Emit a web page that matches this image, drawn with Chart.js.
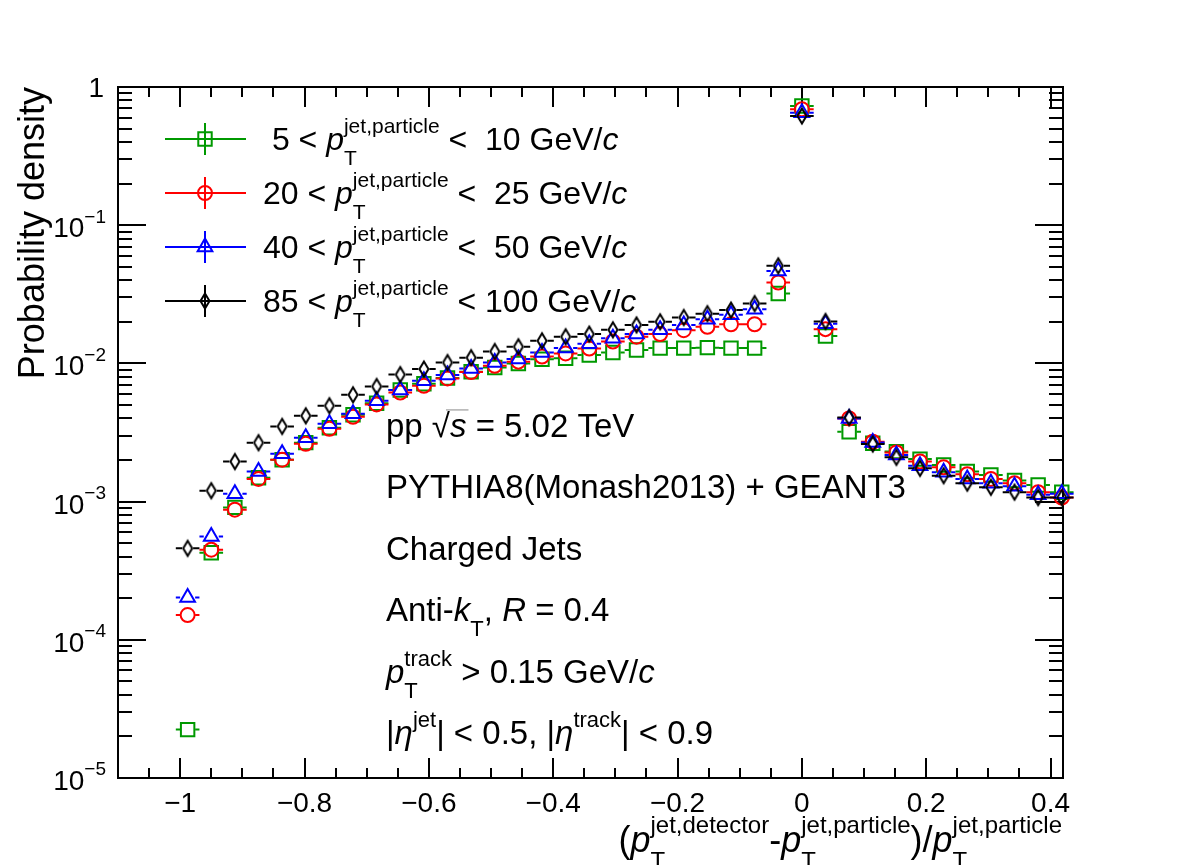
<!DOCTYPE html>
<html>
<head>
<meta charset="utf-8">
<script src="https://cdn.jsdelivr.net/npm/chart.js@4.4.0/dist/chart.umd.min.js"></script>
<style>
    html, body { margin: 0; padding: 0; background: #fff; }
    #wrap { width: 1182px; height: 865px; }
</style>
</head>
<body>
<div id="wrap"><canvas id="chart" width="1182" height="865"></canvas></div>
<script>
// bin centres of (pT,det - pT,part)/pT,part
const binCenters = [
    -0.988, -0.950, -0.912, -0.874, -0.836, -0.798, -0.760, -0.722, -0.684, -0.646,
    -0.608, -0.570, -0.532, -0.494, -0.456, -0.418, -0.380, -0.342, -0.304, -0.266,
    -0.228, -0.190, -0.152, -0.114, -0.076, -0.038, 0.000, 0.038, 0.076, 0.114,
    0.152, 0.190, 0.228, 0.266, 0.304, 0.342, 0.380, 0.418
];
const binHalfWidth = 0.019;

// probability density per pT,part bin
const pt5to10 = [
    2.24e-5, 4.27e-4, 9.08e-4, 1.49e-3, 2.01e-3, 2.67e-3, 3.42e-3, 4.25e-3, 5.15e-3, 6.41e-3,
    7.12e-3, 7.83e-3, 8.70e-3, 9.34e-3, 9.98e-3, 1.07e-2, 1.09e-2, 1.15e-2, 1.20e-2, 1.25e-2,
    1.29e-2, 1.29e-2, 1.30e-2, 1.29e-2, 1.29e-2, 3.20e-2, 0.729, 1.58e-2, 3.20e-3, 2.64e-3,
    2.30e-3, 2.03e-3, 1.84e-3, 1.65e-3, 1.56e-3, 1.42e-3, 1.32e-3, 1.17e-3
];
const pt20to25 = [
    1.51e-4, 4.49e-4, 8.74e-4, 1.46e-3, 2.01e-3, 2.62e-3, 3.36e-3, 4.11e-3, 5.05e-3, 6.16e-3,
    6.89e-3, 7.78e-3, 8.65e-3, 9.60e-3, 1.03e-2, 1.12e-2, 1.18e-2, 1.28e-2, 1.44e-2, 1.56e-2,
    1.63e-2, 1.74e-2, 1.84e-2, 1.92e-2, 1.92e-2, 3.85e-2, 0.690, 1.77e-2, 4.00e-3, 2.71e-3,
    2.27e-3, 1.95e-3, 1.77e-3, 1.58e-3, 1.46e-3, 1.36e-3, 1.17e-3, 1.07e-3
];
const pt40to50 = [
    2.02e-4, 5.60e-4, 1.14e-3, 1.65e-3, 2.22e-3, 2.90e-3, 3.66e-3, 4.32e-3, 5.37e-3, 6.41e-3,
    7.48e-3, 8.23e-3, 9.19e-3, 1.015e-2, 1.074e-2, 1.20e-2, 1.29e-2, 1.39e-2, 1.52e-2, 1.63e-2,
    1.75e-2, 1.90e-2, 2.09e-2, 2.25e-2, 2.47e-2, 4.67e-2, 0.652, 1.94e-2, 4.00e-3, 2.68e-3,
    2.17e-3, 1.82e-3, 1.63e-3, 1.46e-3, 1.36e-3, 1.29e-3, 1.12e-3, 1.14e-3
];
const pt85to100 = [
    4.59e-4, 1.20e-3, 1.95e-3, 2.67e-3, 3.50e-3, 4.18e-3, 4.94e-3, 5.93e-3, 6.81e-3, 8.30e-3,
    9.10e-3, 1.015e-2, 1.10e-2, 1.22e-2, 1.32e-2, 1.457e-2, 1.56e-2, 1.63e-2, 1.75e-2, 1.90e-2,
    2.00e-2, 2.15e-2, 2.29e-2, 2.43e-2, 2.71e-2, 5.08e-2, 0.617, 2.01e-2, 4.06e-3, 2.61e-3,
    2.09e-3, 1.74e-3, 1.54e-3, 1.36e-3, 1.27e-3, 1.17e-3, 1.07e-3, 1.07e-3
];

const xMajorTicks = [-1, -0.8, -0.6, -0.4, -0.2, 0, 0.2, 0.4];
const xTickLabels = ['\u22121', '\u22120.8', '\u22120.6', '\u22120.4', '\u22120.2', '0', '0.2', '0.4'];
const yMajorTicks = [1e-5, 1e-4, 1e-3, 1e-2, 1e-1, 1];
const yTickExponents = ['\u22125', '\u22124', '\u22123', '\u22122', '\u22121', null];

const GREEN = '#009900';
const FONT = '"Liberation Sans", Arial, Helvetica, sans-serif';

function font(size, italic) {
    return (italic ? 'italic ' : '') + size + 'px ' + FONT;
}

// thin open diamond like ROOT marker 27
function makeDiamond() {
    const c = document.createElement('canvas');
    c.width = 16; c.height = 22;
    const g = c.getContext('2d');
    g.strokeStyle = '#000';
    g.lineWidth = 2;
    g.beginPath();
    g.moveTo(8, 3.5); g.lineTo(12.5, 11); g.lineTo(8, 18.5); g.lineTo(3.5, 11);
    g.closePath();
    g.stroke();
    return c;
}

function toPoints(vals) {
    return binCenters.map((x, i) => ({ x, y: vals[i] }));
}

const series = [
    { label: '5-10', data: pt5to10, color: GREEN, style: 'rect', radius: 9.5, gap: 7.5, order: 3 },
    { label: '20-25', data: pt20to25, color: '#ff0000', style: 'circle', radius: 7, gap: 7.5, order: 2 },
    { label: '40-50', data: pt40to50, color: '#0000ff', style: 'triangle', radius: 8.5, gap: 7.5, order: 1 },
    { label: '85-100', data: pt85to100, color: '#000000', style: makeDiamond(), radius: 7, gap: 5.5, order: 0 }
];

const legendRows = [
    [{ t: ' 5 < ' }, { t: 'p', it: true }, { sup: 'jet,particle', sub: 'T' }, { t: ' <  10 GeV/' }, { t: 'c', it: true }],
    [{ t: '20 < ' }, { t: 'p', it: true }, { sup: 'jet,particle', sub: 'T' }, { t: ' <  25 GeV/' }, { t: 'c', it: true }],
    [{ t: '40 < ' }, { t: 'p', it: true }, { sup: 'jet,particle', sub: 'T' }, { t: ' <  50 GeV/' }, { t: 'c', it: true }],
    [{ t: '85 < ' }, { t: 'p', it: true }, { sup: 'jet,particle', sub: 'T' }, { t: ' < 100 GeV/' }, { t: 'c', it: true }]
];

const infoLines = [
    [{ t: 'pp ' }, { t: '\u221A' }, { t: 's', it: true, over: true }, { t: ' = 5.02 TeV' }],
    [{ t: 'PYTHIA8(Monash2013) + GEANT3' }],
    [{ t: 'Charged Jets' }],
    [{ t: 'Anti-' }, { t: 'k', it: true }, { sub: 'T' }, { t: ', ' }, { t: 'R', it: true }, { t: ' = 0.4' }],
    [{ t: 'p', it: true }, { sup: 'track', sub: 'T' }, { t: ' > 0.15 GeV/' }, { t: 'c', it: true }],
    [{ t: '|' }, { t: '\u03B7', it: true }, { sup: 'jet' }, { t: '| < 0.5, |' }, { t: '\u03B7', it: true }, { sup: 'track' }, { t: '| < 0.9' }]
];

const xTitle = [
    { t: '(' }, { t: 'p', it: true }, { sup: 'jet,detector', sub: 'T' }, { t: '-' },
    { t: 'p', it: true }, { sup: 'jet,particle', sub: 'T' }, { t: ')/' },
    { t: 'p', it: true }, { sup: 'jet,particle', sub: 'T' }
];

function isScript(p) {
    return p.sup !== undefined || p.sub !== undefined;
}

function partWidth(ctx, p, size, ss) {
    if (isScript(p)) {
        ctx.font = font(ss, false);
        const a = p.sup ? ctx.measureText(p.sup).width : 0;
        const b = p.sub ? ctx.measureText(p.sub).width : 0;
        return Math.max(a, b);
    }
    ctx.font = font(size, p.it);
    return ctx.measureText(p.t).width;
}

function drawRich(ctx, x, y, parts, size, ss, align) {
    const total = parts.reduce((s, p) => s + partWidth(ctx, p, size, ss), 0);
    let cx = align === 'right' ? x - total : x;
    ctx.textAlign = 'left';
    ctx.textBaseline = 'alphabetic';
    ctx.fillStyle = '#000';
    parts.forEach(p => {
        const w = partWidth(ctx, p, size, ss);
        if (isScript(p)) {
            ctx.font = font(ss, false);
            if (p.sup) ctx.fillText(p.sup, cx, y - size * 0.52);
            if (p.sub) ctx.fillText(p.sub, cx, y + size * 0.46);
        } else {
            ctx.font = font(size, p.it);
            ctx.fillText(p.t, cx, y);
            if (p.over) {
                ctx.save();
                ctx.strokeStyle = '#888';
                ctx.lineWidth = 1;
                ctx.beginPath();
                ctx.moveTo(cx - 4, y - size * 0.82);
                ctx.lineTo(cx + w + 2, y - size * 0.82);
                ctx.stroke();
                ctx.restore();
            }
        }
        cx += w;
    });
}

const rootAxes = {
    id: 'rootAxes',
    beforeDatasetsDraw(chart) {
        const { ctx, chartArea: a, scales: { x, y } } = chart;
        ctx.save();
        ctx.strokeStyle = '#000';
        ctx.lineWidth = 2;
        ctx.strokeRect(a.left, a.top, a.right - a.left, a.bottom - a.top);

        ctx.beginPath();
        // x ticks, bottom and top, pointing inside
        for (let k = -22; k <= 8; k++) {
            const v = k * 0.05;
            if (v < x.min - 1e-9 || v > x.max + 1e-9) continue;
            const px = Math.round(x.getPixelForValue(v));
            const len = (k % 4 === 0) ? 20 : 10;
            ctx.moveTo(px, a.bottom); ctx.lineTo(px, a.bottom - len);
            ctx.moveTo(px, a.top); ctx.lineTo(px, a.top + len);
        }
        // y ticks, left and right
        for (let e = -5; e <= 0; e++) {
            for (let m = 1; m <= 9; m++) {
                const v = m * Math.pow(10, e);
                if (v > y.max * 1.0001) continue;
                const py = Math.round(y.getPixelForValue(v));
                const len = m === 1 ? 28 : 14;
                ctx.moveTo(a.left, py); ctx.lineTo(a.left + len, py);
                ctx.moveTo(a.right, py); ctx.lineTo(a.right - len, py);
            }
        }
        ctx.stroke();

        // tick labels
        ctx.fillStyle = '#000';
        ctx.textAlign = 'center';
        ctx.textBaseline = 'alphabetic';
        ctx.font = font(28, false);
        xMajorTicks.forEach((v, i) => {
            ctx.fillText(xTickLabels[i], x.getPixelForValue(v), 812);
        });
        yMajorTicks.forEach((v, i) => {
            const py = y.getPixelForValue(v);
            if (yTickExponents[i] === null) {
                ctx.font = font(28, false);
                ctx.textAlign = 'right';
                ctx.fillText('1', 104, py + 10);
                return;
            }
            drawRich(ctx, 106, py + 12, [{ t: '10' }, { sup: yTickExponents[i] }], 28, 19, 'right');
        });
        ctx.restore();
    }
};

const errorBars = {
    id: 'errorBars',
    afterDatasetsDraw(chart) {
        const { ctx, scales: { x } } = chart;
        ctx.save();
        ctx.lineWidth = 2;
        chart.data.datasets.forEach((ds, di) => {
            const meta = chart.getDatasetMeta(di);
            const gap = series[di].gap;
            ctx.strokeStyle = series[di].color;
            ctx.beginPath();
            meta.data.forEach((el, i) => {
                const xv = ds.data[i].x;
                const x0 = x.getPixelForValue(xv - binHalfWidth);
                const x1 = x.getPixelForValue(xv + binHalfWidth);
                ctx.moveTo(x0, el.y); ctx.lineTo(el.x - gap, el.y);
                ctx.moveTo(el.x + gap, el.y); ctx.lineTo(x1, el.y);
            });
            ctx.stroke();
        });
        ctx.restore();
    }
};

const annotations = {
    id: 'annotations',
    afterDraw(chart) {
        const { ctx } = chart;
        ctx.save();

        // legend
        const rowY = [139, 193, 247, 301];
        series.forEach((s, i) => {
            const cy = rowY[i];
            ctx.strokeStyle = s.color;
            ctx.lineWidth = 2;
            ctx.beginPath();
            ctx.moveTo(165, cy); ctx.lineTo(246, cy);
            ctx.moveTo(205, cy - 16); ctx.lineTo(205, cy + 16);
            ctx.stroke();
            ctx.fillStyle = 'rgba(0,0,0,0)';
            ctx.strokeStyle = s.color;
            Chart.helpers.drawPoint(ctx, {
                pointStyle: s.style, radius: s.radius, borderWidth: 2, rotation: 0
            }, 205, cy);
            drawRich(ctx, 263, cy + 11, legendRows[i], 32, 21, 'left');
        });

        // info text
        const lineY = [437, 498, 560, 621, 683, 744];
        infoLines.forEach((parts, i) => drawRich(ctx, 386, lineY[i], parts, 33, 22, 'left'));

        // axis titles
        drawRich(ctx, 1062, 852, xTitle, 36, 24, 'right');
        ctx.translate(44, 87);
        ctx.rotate(-Math.PI / 2);
        ctx.font = font(36, false);
        ctx.fillStyle = '#000';
        ctx.textAlign = 'right';
        ctx.textBaseline = 'alphabetic';
        ctx.fillText('Probability density', 0, 0);
        ctx.restore();
    }
};

new Chart(document.getElementById('chart'), {
    type: 'scatter',
    data: {
        datasets: series.map(s => ({
            label: s.label,
            data: toPoints(s.data),
            pointStyle: s.style,
            pointRadius: s.radius,
            pointBorderWidth: 2,
            borderColor: s.color,
            backgroundColor: 'rgba(0,0,0,0)',
            showLine: false,
            clip: false,
            order: s.order
        }))
    },
    options: {
        responsive: false,
        animation: false,
        devicePixelRatio: 1,
        layout: { padding: { left: 118, right: 119, top: 87, bottom: 87 } },
        scales: {
            x: { type: 'linear', min: -1.1, max: 0.42, display: false },
            y: { type: 'logarithmic', min: 1e-5, max: 1, display: false }
        },
        plugins: { legend: { display: false }, tooltip: { enabled: false } },
        events: []
    },
    plugins: [rootAxes, errorBars, annotations]
});
</script>
</body>
</html>
